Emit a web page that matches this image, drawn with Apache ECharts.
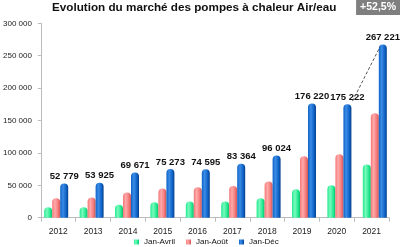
<!DOCTYPE html>
<html><head><meta charset="utf-8">
<script src="https://cdn.jsdelivr.net/npm/echarts@6/dist/echarts.min.js"></script>
<style>html,body{margin:0;padding:0;background:#fff}#c{width:400px;height:247px}</style>
</head><body><div id="c"></div>
<script>
const years = ['2012','2013','2014','2015','2016','2017','2018','2019','2020','2021'];
const janAvril = [16000,16000,20000,24000,25000,25000,30000,44000,50000,82000];
const janAout  = [30000,31000,39000,45000,47000,49000,56000,95000,98000,161000];
const janDec   = [52779,53925,69671,75273,74595,83364,96024,176220,175222,267221];
const seriesNames = ['Jan-Avril','Jan-Août','Jan-Déc'];
const yTicks = [0,50000,100000,150000,200000,250000,300000];
const growthLabel = '+52,5%';
const arrowFrom = [8.37, 180000];
const arrowTo = [9.15, 264000];

const fmt = v => String(v).replace(/\B(?=(\d{3})+(?!\d))/g, ' ');
const cyl = (l, m, d) => ({type:'linear',x:0,y:0,x2:1,y2:0,colorStops:[
  {offset:0,color:m},{offset:0.35,color:l},{offset:0.75,color:m},{offset:1,color:d}]});
const FONT = 'Liberation Sans';
const chart = echarts.init(document.getElementById('c'), null, {renderer:'canvas'});
chart.setOption({
  animation:false,
  backgroundColor:'#ffffff',
  textStyle:{fontFamily:FONT},
  title:[
    {text:'Evolution du marché des pompes à chaleur Air/eau', left:52, top:2, padding:0,
     textStyle:{fontFamily:FONT,fontWeight:'bold',fontSize:11.7,color:'#111'}},
    {text:growthLabel, right:0, top:0, backgroundColor:'#7f7f7f', padding:[2,4,2,4],
     textStyle:{fontFamily:FONT,fontWeight:'bold',fontSize:10.5,color:'#fff'}}
  ],
  legend:{top:238, left:134, padding:0, icon:'rect', itemWidth:5, itemHeight:5, itemGap:11,
    textStyle:{fontFamily:FONT,fontSize:8,color:'#111'}, data:seriesNames},
  grid:[
    {left:35, right:11, top:23.3, bottom:29.3},
    {left:38.5, right:7.5, top:23.3, bottom:29.3}
  ],
  xAxis:[
    {type:'category', gridIndex:0, data:years,
     axisLine:{lineStyle:{color:'#bbbbbb'}},
     axisTick:{show:true,length:4,lineStyle:{color:'#bbbbbb'}},
     axisLabel:{fontFamily:FONT,fontSize:8.5,color:'#222',margin:9}},
    {type:'category', gridIndex:1, data:years, show:false},
    {type:'value', gridIndex:1, min:-0.5, max:9.5, show:false}
  ],
  yAxis:[
    {type:'value', gridIndex:0, min:0, max:300000, interval:50000,
     axisLine:{show:true,lineStyle:{color:'#bbbbbb'}},
     axisTick:{show:true,length:3,lineStyle:{color:'#bbbbbb'}},
     splitLine:{show:false},
     axisLabel:{fontFamily:FONT,fontSize:8,color:'#222',margin:9,
       formatter:v => yTicks.includes(v) ? fmt(v) : ''}},
    {type:'value', gridIndex:1, min:0, max:300000, interval:50000, show:false}
  ],
  series:[
    {name:seriesNames[0], type:'bar', xAxisIndex:1, yAxisIndex:1, data:janAvril,
     barWidth:8, barGap:'0%', itemStyle:{color:cyl('#7af9bd','#22ea90','#10bb6c'),borderRadius:[4,4,1,1]}},
    {name:seriesNames[1], type:'bar', xAxisIndex:1, yAxisIndex:1, data:janAout,
     barWidth:8, barGap:'0%', itemStyle:{color:cyl('#ffaaaa','#f47878','#cc5656'),borderRadius:[4,4,1,1]}},
    {name:seriesNames[2], type:'bar', xAxisIndex:1, yAxisIndex:1, data:janDec,
     barWidth:8, barGap:'0%', itemStyle:{color:cyl('#3c8ce6','#0d62c6','#083f8a'),borderRadius:[4,4,1,1]},
     label:{show:true, position:'top', distance:2, formatter:p => fmt(p.value),
       fontFamily:FONT, fontWeight:'bold', fontSize:9.5, color:'#111'}},
    {type:'line', xAxisIndex:2, yAxisIndex:1, data:[arrowFrom, arrowTo], symbol:'none',
     lineStyle:{type:[3,2],width:1,color:'#555'}, silent:true}
  ]
});
</script></body></html>
